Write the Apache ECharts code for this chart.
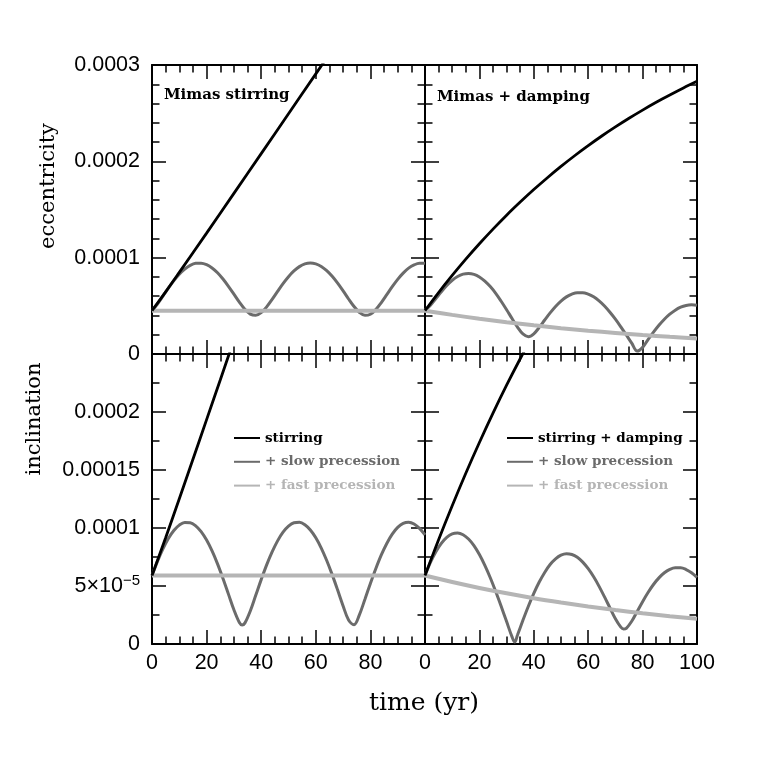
<!DOCTYPE html>
<html><head><meta charset="utf-8">
<script src="https://cdn.jsdelivr.net/npm/echarts@6/dist/echarts.min.js"></script>
<style>html,body{margin:0;padding:0;background:#fff}#c{width:761px;height:761px}</style>
</head><body><div id="c"></div><script>
// ---------- data (values in units of 1e-5) ----------
const timeFine = [0,2,4,6,8,10,12,14,16,18,20,22,24,26,28,30,32,34,36,38,40,42,44,46,48,50,52,54,56,58,60,62,64,66,68,70,72,74,76,78,80,82,84,86,88,90,92,94,96,98,100];
const timeFineBL = [0,2,4,6,8,10,12,14,16,18,20,22,24,26,28,30,32,33,34,36,38,40,42,44,46,48,50,52,54,56,58,60,62,64,66,68,70,72,74,76,78,80,82,84,86,88,90,92,94,96,98,100];
const timeFineBR = [0,2,4,6,8,10,12,14,16,18,20,22,24,26,28,30,32,33,34,36,38,40,42,44,46,48,50,52,54,56,58,60,62,64,66,68,70,72,73,74,76,78,80,82,84,86,88,90,92,94,96,98,100];
const timeDecade = [0,10,20,30,40,50,60,70,80,90,100];
const timeFlat = [0,25,50,75,100];

// eccentricity, Mimas stirring
const eccStirTime = [0,5,10,20,30,40,50,60,70];
const eccStir = [4.50,6.45,8.47,12.55,16.67,20.80,24.94,29.08,33.22];
const eccStirSlow = [4.50,5.19,6.01,6.84,7.62,8.29,8.82,9.20,9.41,9.43,9.27,8.93,8.43,7.78,7.03,6.21,5.38,4.65,4.14,4.01,4.29,4.89,5.67,6.50,7.31,8.03,8.62,9.07,9.35,9.44,9.35,9.09,8.65,8.06,7.35,6.55,5.71,4.93,4.31,4.01,4.13,4.62,5.34,6.16,6.99,7.75,8.40,8.91,9.25,9.42,9.41];
const eccStirFast = [4.50,4.50,4.50,4.50,4.50];

// eccentricity, Mimas + damping
const eccDampTime = [0,5,10,15,20,25,30,35,40,45,50,55,60,65,70,75,80,85,90,95,100];
const eccDamp = [4.50,6.38,8.15,9.84,11.44,12.96,14.41,15.77,17.07,18.30,19.47,20.58,21.63,22.63,23.57,24.47,25.32,26.13,26.89,27.62,28.31];
const eccDampSlow = [4.50,5.06,5.76,6.46,7.11,7.65,8.05,8.29,8.36,8.27,8.00,7.57,7.00,6.30,5.48,4.60,3.68,2.80,2.08,1.80,2.10,2.76,3.53,4.27,4.94,5.50,5.93,6.22,6.37,6.37,6.22,5.94,5.52,4.99,4.34,3.62,2.82,1.98,1.12,0.30,0.69,1.50,2.27,2.98,3.61,4.13,4.55,4.86,5.04,5.10,5.05];
const eccDampFast = [4.50,4.06,3.66,3.30,2.98,2.68,2.42,2.19,1.97,1.78,1.60];

// inclination, stirring
const incStirTime = [0,5,10,15,20,25,30,35];
const incStir = [5.90,9.16,12.52,15.92,19.34,22.76,26.20,29.63];
const incStirSlow = [5.88,7.12,8.20,9.10,9.79,10.25,10.48,10.46,10.19,9.69,8.96,8.02,6.91,5.65,4.30,2.95,1.85,1.64,1.80,2.85,4.20,5.55,6.82,7.94,8.89,9.64,10.16,10.45,10.49,10.28,9.83,9.16,8.27,7.20,5.98,4.65,3.28,2.07,1.67,2.54,3.86,5.22,6.51,7.68,8.67,9.47,10.05,10.40,10.50,10.35,9.97,9.40];
const incStirFast = [5.90,5.90,5.90,5.90,5.90];

// inclination, stirring + damping
const incDampTime = [0,5,10,15,20,25,30,35,40,45];
const incDamp = [5.90,8.99,11.92,14.72,17.37,19.90,22.31,24.59,26.77,28.84];
const incDampSlow = [5.90,7.03,7.95,8.68,9.20,9.50,9.57,9.42,9.05,8.48,7.71,6.78,5.71,4.52,3.25,1.93,0.61,0.17,0.77,2.04,3.25,4.36,5.34,6.17,6.85,7.34,7.66,7.78,7.72,7.48,7.06,6.49,5.79,4.97,4.06,3.11,2.18,1.45,1.29,1.35,1.96,2.80,3.65,4.44,5.13,5.70,6.14,6.43,6.57,6.57,6.42,6.14,5.75];
const incDampFast = [5.90,5.34,4.83,4.37,3.95,3.58,3.24,2.93,2.65,2.40,2.17];

// tick labels
const eccTickValues = [0,10,20,30];
const eccTickLabels = ['0','0.0001','0.0002','0.0003'];
const incTickValues = [0,5,10,15,20,25];
const incTickLabels = ['0','{n|5×10}{s|−5}','0.0001','0.00015','0.0002',''];
const timeTickValues = [0,20,40,60,80,100];
const timeTickLabelsLeft = ['0','20','40','60','80',''];
const timeTickLabelsRight = ['0','20','40','60','80','100'];

// ---------- chart ----------
const BLACK = '#000000', SLOW = '#6b6b6b', FAST = '#b5b5b5';
const tickFont = {color:'#000', fontFamily:'Liberation Sans', fontSize:21.5};
function lookup(vals, labs){ return v => { const i = vals.indexOf(Math.round(v*1000)/1000); return i >= 0 ? labs[i] : ''; }; }
function pairs(ts, vs){ return ts.map((t,i) => [t, vs[i]]); }

const grids = [
  {left:152, top:65, width:273, height:289},
  {left:425, top:65, width:272, height:289},
  {left:152, top:354, width:273, height:290},
  {left:425, top:354, width:272, height:290}
];
grids.forEach(g => { g.outerBoundsMode = 'none'; g.containLabel = false; });

const lineAx = {show:true, onZero:false, lineStyle:{color:'#000', width:2}};
function xAx(g, pos, labels){
  return {gridIndex:g, type:'value', position:pos, min:0, max:100, interval:20,
    axisLine:lineAx, splitLine:{show:false},
    axisTick:{show:true, inside:true, length:14, lineStyle:{color:'#000', width:1.5}},
    minorTick:{show:true, splitNumber:4, length:7.5, lineStyle:{color:'#000', width:1.5}},
    axisLabel: labels ? Object.assign({show:true, margin:8, formatter:lookup(timeTickValues, labels)}, tickFont) : {show:false}};
}
function yAx(g, pos, top, showLabels){
  const o = {gridIndex:g, type:'value', position:pos, min:0, max: top ? 30 : 25, interval: top ? 10 : 5,
    axisLine:lineAx, splitLine:{show:false},
    axisTick:{show:true, inside:true, length:14, lineStyle:{color:'#000', width:1.5}},
    minorTick:{show:true, splitNumber: top ? 5 : 2, length:7.5, lineStyle:{color:'#000', width:1.5}},
    axisLabel:{show:false}};
  if (showLabels) {
    o.axisLabel = Object.assign({show:true, margin:12,
      formatter: top ? lookup(eccTickValues, eccTickLabels) : lookup(incTickValues, incTickLabels),
      rich:{n:{fontFamily:'Liberation Sans', fontSize:21.5, color:'#000'},
            s:{fontFamily:'Liberation Sans', fontSize:15, color:'#000', padding:[0,0,11,0]}}}, tickFont);
  }
  return o;
}
const xAxes = [
  xAx(0,'bottom',null), xAx(0,'top',null),
  xAx(1,'bottom',null), xAx(1,'top',null),
  xAx(2,'bottom',timeTickLabelsLeft), xAx(2,'top',null),
  xAx(3,'bottom',timeTickLabelsRight), xAx(3,'top',null)
];
const yAxes = [
  yAx(0,'left',true,true), yAx(0,'right',true,false),
  yAx(1,'left',true,false), yAx(1,'right',true,false),
  yAx(2,'left',false,true), yAx(2,'right',false,false),
  yAx(3,'left',false,false), yAx(3,'right',false,false)
];
function ser(name, g, ts, vs, color, width, z){
  return {type:'line', name:name, xAxisIndex:2*g, yAxisIndex:2*g, data:pairs(ts, vs),
    showSymbol:false, symbol:'none', smooth:0.35, clip:true, silent:true, z:z,
    color:color, itemStyle:{color:color}, lineStyle:{color:color, width:width}};
}
const series = [
  ser('+ slow precession', 0, timeFine, eccStirSlow, SLOW, 3, 2),
  ser('+ fast precession', 0, timeFlat, eccStirFast, FAST, 4, 3),
  ser('stirring', 0, eccStirTime, eccStir, BLACK, 2.8, 4),
  ser('+ slow precession', 1, timeFine, eccDampSlow, SLOW, 3, 2),
  ser('+ fast precession', 1, timeDecade, eccDampFast, FAST, 4, 3),
  ser('stirring + damping', 1, eccDampTime, eccDamp, BLACK, 2.8, 4),
  ser('+ slow precession', 2, timeFineBL, incStirSlow, SLOW, 3, 2),
  ser('+ fast precession', 2, timeFlat, incStirFast, FAST, 4, 3),
  ser('stirring', 2, incStirTime, incStir, BLACK, 2.8, 4),
  ser('+ slow precession', 3, timeFineBR, incDampSlow, SLOW, 3, 2),
  ser('+ fast precession', 3, timeDecade, incDampFast, FAST, 4, 3),
  ser('stirring + damping', 3, incDampTime, incDamp, BLACK, 2.8, 4)
];
const legendText = {fontFamily:'DejaVu Serif', fontWeight:'bold', fontSize:13.5, lineHeight:14};
function legendAt(left, first){
  return {left:left, top:431, orient:'vertical', padding:0, itemGap:9.8, itemWidth:26, itemHeight:2,
    icon:'rect', selectedMode:false, textStyle:legendText,
    data:[{name:first, textStyle:{color:BLACK}},
          {name:'+ slow precession', textStyle:{color:SLOW}},
          {name:'+ fast precession', textStyle:{color:FAST}}]};
}
function txt(x, y, text, size, weight, align, rot){
  return {type:'text', x:x, y:y, rotation:rot || 0, silent:true,
    style:{text:text, fill:'#000', fontFamily:'DejaVu Serif', fontSize:size, fontWeight:weight,
      align:align, verticalAlign:'middle', textAlign:align, textVerticalAlign:'middle'}};
}
const option = {
  animation:false,
  backgroundColor:'#ffffff',
  grid:grids, xAxis:xAxes, yAxis:yAxes, series:series,
  legend:[legendAt(234,'stirring'), legendAt(507,'stirring + damping')],
  graphic:[
    txt(164, 95, 'Mimas stirring', 15, 'bold', 'left'),
    txt(437, 97, 'Mimas + damping', 15, 'bold', 'left'),
    txt(49, 186, 'eccentricity', 21, 'normal', 'center', Math.PI/2),
    txt(35, 419, 'inclination', 21, 'normal', 'center', Math.PI/2),
    txt(424, 703, 'time (yr)', 25, 'normal', 'center')
  ]
};
const chart = echarts.init(document.getElementById('c'), null, {renderer:'canvas', width:761, height:761});
chart.setOption(option);
</script></body></html>
